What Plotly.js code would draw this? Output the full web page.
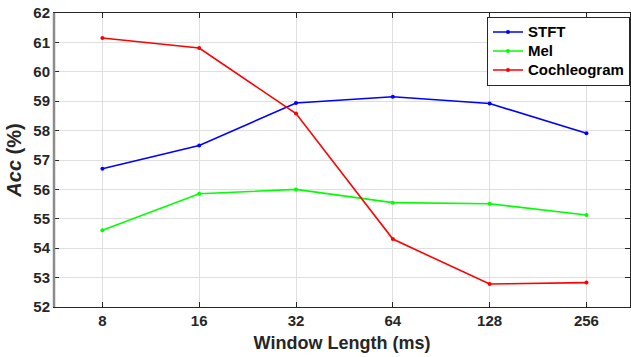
<!DOCTYPE html>
<html>
<head>
<meta charset="utf-8">
<script src="https://cdn.plot.ly/plotly-3.0.1.min.js"></script>
<style>html,body{margin:0;padding:0;background:#fff}#chart{width:631px;height:357px}</style>
</head>
<body>
<div id="chart"></div>
<script>
const windowLabels = ['8', '16', '32', '64', '128', '256'];
const seriesNames = ['STFT', 'Mel', 'Cochleogram'];
const stft = [56.70, 57.49, 58.94, 59.15, 58.92, 57.91];
const mel = [54.61, 55.85, 56.00, 55.55, 55.51, 55.13];
const cochleogram = [61.15, 60.81, 58.58, 54.31, 52.78, 52.83];
const yTicks = [52, 53, 54, 55, 56, 57, 58, 59, 60, 61, 62];

const FONT = 'Liberation Sans, Arial, sans-serif';
const DARK = '#262626';

function series(name, values, color) {
  return {
    type: 'scatter', mode: 'lines+markers',
    name: '<span style="font-size:15px">' + name + '</span>',
    x: windowLabels, y: values,
    line: {color: color, width: 1.6},
    marker: {color: color, size: 4}
  };
}

const data = [
  series(seriesNames[0], stft, '#0000ff'),
  series(seriesNames[1], mel, '#00ff00'),
  series(seriesNames[2], cochleogram, '#ff0000')
];

const layout = {
  width: 631, height: 357,
  margin: {l: 54, r: 1, t: 13, b: 50},
  paper_bgcolor: '#ffffff', plot_bgcolor: '#ffffff',
  font: {family: FONT, color: DARK, size: 15},
  showlegend: true,
  legend: {
    x: 1, xanchor: 'right', y: 0.988, yanchor: 'top',
    bgcolor: '#ffffff', bordercolor: DARK, borderwidth: 1,
    font: {family: FONT, size: 12, color: '#000000', weight: 'bold'},
    itemwidth: 30, tracegroupgap: 0
  },
  xaxis: {
    type: 'category', range: [-0.5, 5.45],
    tickvals: windowLabels, ticktext: windowLabels,
    showgrid: true, gridcolor: '#dfdfdf', gridwidth: 1,
    showline: true, linecolor: DARK, linewidth: 1, mirror: 'ticks',
    ticks: 'inside', ticklen: 5, tickcolor: DARK,
    tickfont: {family: FONT, size: 15, color: DARK, weight: 'bold'},
    title: {text: 'Window Length (ms)', standoff: 8,
            font: {family: FONT, size: 18, color: DARK, weight: 'bold'}},
    zeroline: false
  },
  yaxis: {
    range: [52, 62], tickvals: yTicks,
    showgrid: true, gridcolor: '#dfdfdf', gridwidth: 1,
    showline: true, linecolor: DARK, linewidth: 1, mirror: 'ticks',
    ticks: 'inside', ticklen: 5, tickcolor: DARK,
    tickfont: {family: FONT, size: 15, color: DARK, weight: 'bold'},
    title: {text: '<i>Acc</i> (%)', standoff: 6,
            font: {family: FONT, size: 20, color: DARK, weight: 'bold'}},
    zeroline: false
  },
  shapes: [
    {type: 'line', xref: 'paper', yref: 'paper', x0: 0, x1: 0, y0: 0, y1: 1,
     line: {color: '#8c8c8c', width: 2.5}}
  ]
};

Plotly.newPlot('chart', data, layout, {staticPlot: true, displayModeBar: false});
</script>
</body>
</html>
